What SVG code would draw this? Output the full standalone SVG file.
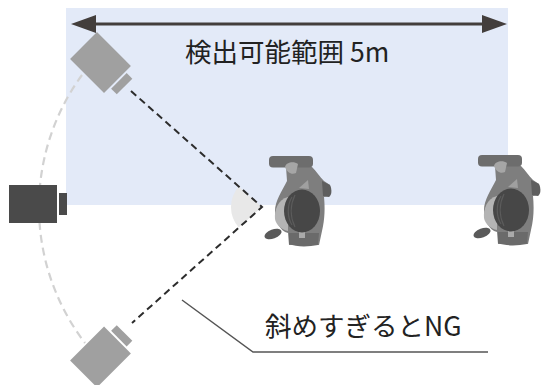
<svg xmlns="http://www.w3.org/2000/svg" xmlns:xlink="http://www.w3.org/1999/xlink" width="542" height="385" viewBox="0 0 542 385">
  <style>
    .label { font-family: "Noto Sans CJK JP", "Noto Sans", sans-serif; font-size: 26.5px; fill: #222; }
    .range-arrow { stroke: #433e3c; stroke-width: 3; fill: none; }
    .view-ray { stroke: #2c2c2c; stroke-width: 2; stroke-dasharray: 7 4.5; fill: none; }
    .swing { stroke: #d2d2d2; stroke-width: 2.2; stroke-dasharray: 8 5; fill: none; }
    .leader { stroke: #555; stroke-width: 1.5; fill: none; }
  </style>
  <defs>
    <marker id="head" markerUnits="userSpaceOnUse" markerWidth="25" markerHeight="18" refX="11" refY="9" orient="auto-start-reverse">
      <path d="M0,0 L25,9 L0,18 Z" fill="#433e3c"/>
    </marker>
    <!-- camera: body centred on origin, lens facing +x -->
    <g id="camera">
      <rect x="-24" y="-19" width="48" height="38"/>
      <rect x="26" y="-11" width="8" height="22"/>
    </g>
    <!-- walker seen from above, origin at head centre -->
    <g id="walker">
      <path d="M-16,-44 L10,-44 C14,-40 18,-34 22,-30 L28,-26 L28,-15 L22,-14 C23,-4 23,8 20,20 L17,34 L-13,34 L-14,22 C-22,20 -27,10 -27,0 C-27,-10 -20,-20 -15,-30 Z" fill="#7e7e7e"/>
      <path d="M20,-30 L28,-26 C30,-22 30,-16 27,-14 L21,-15 Z" fill="#5e5e5e"/>
      <rect x="-33" y="-55" width="44" height="11.5" rx="4" fill="#6d6d6d"/>
      <path d="M-17,-44 C-16,-49 -8,-50 -4,-47 L-6,-38 C-10,-36 -15,-38 -17,-44 Z" fill="#a6a6a6"/>
      <path d="M-3,-23 L6,-31 L7,-22 Z" fill="#a0a0a0"/>
      <path d="M-14,-14 C-24,-12 -28,0 -27,8 C-26,14 -20,19 -14,20 Z" fill="#b4b4b4"/>
      <path d="M-13,22 L17,22 L16,34 C6,36 -6,36 -13,33 Z" fill="#6a6a6a"/>
      <rect x="-3" y="21" width="6" height="6" fill="#aaaaaa"/>
      <ellipse cx="-29" cy="23" rx="9" ry="4.5" transform="rotate(-20 -29 23)" fill="#5a5a5a"/>
      <ellipse cx="0" cy="0" rx="18" ry="21.5" fill="#474747"/>
      <path d="M-10,-14 C-15,-6 -15,6 -10,14 M-7,-16 C-12,-6 -12,6 -7,16" stroke="#5c5c5c" stroke-width="1.2" fill="none"/>
    </g>
  </defs>

  <!-- detection zone -->
  <rect id="zone" x="66" y="8" width="442" height="197" fill="#e3eaf8"/>

  <g id="connectors">
    <line class="range-arrow" x1="85" y1="24" x2="493" y2="24" marker-start="url(#head)" marker-end="url(#head)"/>
    <path class="swing" d="M82,75 A224,224 0 0 0 85,343"/>
    <path d="M262,207 L238.8,186.4 A31,31 0 0 0 238.8,227.6 Z" fill="#e8e8e8"/>
    <path class="view-ray" d="M131,91 L262,207 L132,323"/>
    <path class="leader" d="M182,300 L253,352 L488,352"/>
  </g>

  <g id="camera-top" transform="translate(100.5,62.5) rotate(45)" fill="#a0a0a0">
    <use xlink:href="#camera"/>
  </g>
  <g id="camera-side" transform="translate(33,204)" fill="#4a4a4a">
    <use xlink:href="#camera"/>
  </g>
  <g id="camera-bottom" transform="translate(100.5,357) rotate(-45)" fill="#a0a0a0">
    <use xlink:href="#camera"/>
  </g>

  <g id="walker-near" transform="translate(302,211)">
    <use xlink:href="#walker"/>
  </g>
  <g id="walker-far" transform="translate(511,210)">
    <use xlink:href="#walker"/>
  </g>

  <g id="range-label">
    <text class="label" x="185" y="62">検出可能範囲 5m</text>
  </g>
  <g id="angle-label">
    <text class="label" x="265" y="336">斜めすぎるとNG</text>
  </g>
</svg>
